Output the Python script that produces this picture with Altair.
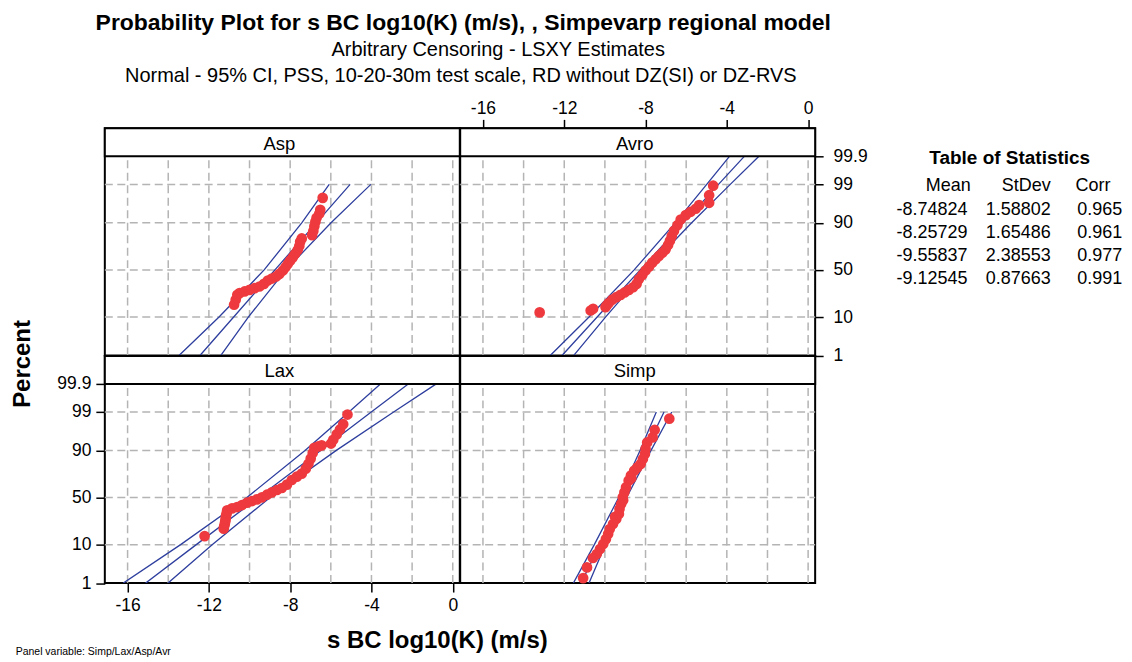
import altair as alt
import pandas as pd
from statistics import NormalDist

_nd = NormalDist()


def zscore(p):
    return _nd.inv_cdf(p / 100.0)


# ---------------- data ----------------
panel_names = ["Asp", "Avro", "Lax", "Simp"]
stat_mean = [-8.74824, -8.25729, -9.55837, -9.12545]
stat_stdev = [1.58802, 1.65486, 2.38553, 0.87663]
stat_corr = [0.965, 0.961, 0.977, 0.991]

x_ticks = [-16, -12, -8, -4, 0]
x_grid = [-16, -14, -12, -10, -8, -6, -4, -2, 0]
pct_ticks = [1, 10, 50, 90, 99, 99.9]
pct_tick_labels = ["1", "10", "50", "90", "99", "99.9"]
pct_grid = [10, 50, 90, 99]

# points (x value, percent)
asp_x = [-6.40, -6.52, -6.57, -6.70, -6.76, -6.81, -6.86, -6.92, -7.43, -7.51, -7.55,
         -7.63, -7.76, -7.87, -8.00, -8.12, -8.23, -8.36, -8.53, -8.69, -8.90, -9.10,
         -9.29, -9.51, -9.75, -10.00, -10.24, -10.49, -10.60, -10.68, -10.76]
asp_pct = [97.5, 94.9, 93.7, 92.2, 90.5, 88.3, 85.5, 82.8, 80.4, 77.8, 74.2,
           70.6, 66.7, 63.4, 60.0, 56.4, 52.9, 49.3, 45.7, 42.9, 40.7, 38.6,
           35.2, 32.6, 31.0, 29.4, 27.9, 26.4, 24.9, 20.8, 17.2]

avro_x = [-13.21, -10.70, -10.58, -9.97, -9.90, -9.81, -9.64, -9.43, -9.23, -9.03, -8.82,
          -8.61, -8.44, -8.33, -8.16, -8.00, -7.83, -7.67, -7.50, -7.34, -7.17, -7.01,
          -6.89, -6.80, -6.71, -6.60, -6.43, -6.27, -6.02, -5.78, -5.53, -5.36, -4.87,
          -4.87, -4.67]
avro_pct = [12.4, 13.5, 14.5, 15.6, 16.8, 18.4, 20.9, 23.0, 24.9, 27.0, 29.4,
            31.9, 35.2, 40.0, 44.6, 49.3, 53.6, 57.9, 61.4, 64.8, 68.0, 71.2,
            75.1, 78.6, 82.1, 85.6, 88.8, 91.5, 93.2, 94.3, 95.2, 96.1, 96.6,
            97.9, 98.9]

lax_x = [-12.21, -11.27, -11.25, -11.22, -11.20, -11.18, -11.17, -11.15, -11.12, -11.10,
         -10.86, -10.61, -10.37, -10.12, -9.88, -9.63, -9.39, -9.14, -8.90, -8.65, -8.41,
         -8.16, -7.92, -7.67, -7.43, -7.23, -7.10, -6.99, -6.89, -6.81, -6.61, -6.45,
         -5.99, -5.88, -5.71, -5.55, -5.39, -5.18]
lax_pct = [14.7, 19.8, 21.5, 23.3, 25.3, 27.3, 29.3, 31.4, 33.8, 36.3,
           38.4, 39.8, 41.9, 44.4, 46.2, 48.0, 50.2, 53.1, 55.6, 58.1, 60.2,
           63.7, 68.3, 71.5, 74.2, 78.4, 82.1, 85.5, 88.7, 91.2, 91.8, 92.2,
           92.9, 94.2, 95.7, 96.8, 97.7, 98.8]

simp_x = [-6.83, -7.55, -7.65, -7.92, -8.00, -8.03, -8.13, -8.24, -8.40, -8.56, -8.72,
          -8.70, -8.83, -8.96, -9.04, -9.12, -9.10, -9.20, -9.28, -9.31, -9.44, -9.50,
          -9.60, -9.76, -9.84, -9.95, -10.08, -10.24, -10.40, -10.59, -10.88, -11.07]
simp_pct = [98.4, 96.7, 94.9, 93.3, 90.7, 88.2, 85.3, 81.9, 79.4, 76.7, 72.4,
            70.0, 67.7, 60.9, 55.6, 50.2, 47.0, 43.0, 37.7, 32.7, 27.9, 30.0,
            23.5, 19.6, 16.0, 12.9, 10.3, 8.05, 6.2, 5.0, 2.87, 1.42]

# fitted line and 95% CI read at these percents
asp_line_pct = [1, 10, 50, 90, 99]
asp_lo = [-13.47, -11.50, -9.28, -7.43, -6.08]
asp_fit = [-12.44, -10.78, -8.75, -6.71, -5.05]
asp_hi = [-11.41, -10.06, -8.21, -5.99, -4.03]

avro_line_pct = [1, 10, 50, 90, 99, 99.9]
avro_lo = [-12.69, -10.78, -8.56, -6.54, -4.99, -3.87]
avro_fit = [-12.11, -10.38, -8.26, -6.14, -4.41, -3.14]
avro_hi = [-11.53, -9.97, -7.96, -5.73, -3.83, -2.42]

lax_line_pct = [1, 10, 50, 90, 99, 99.9]
lax_lo = [-16.21, -13.39, -10.13, -7.27, -5.11, -3.56]
lax_fit = [-15.11, -12.62, -9.56, -6.50, -4.01, -2.19]
lax_hi = [-14.01, -11.84, -8.99, -5.73, -2.91, -0.81]

simp_line_pct = [1, 10, 50, 90, 99]
simp_lo = [-11.55, -10.52, -9.32, -8.27, -7.47]
simp_fit = [-11.17, -10.25, -9.13, -8.00, -7.09]
simp_hi = [-10.78, -9.98, -8.93, -7.73, -6.71]

# ---------------- styling / layout ----------------
FONT = "Liberation Sans, Arial, Helvetica, sans-serif"
RED = "#ee3a3e"
BLUE = "#2e3f9e"
GRID = "#b4b4b4"

W, H, HDR = 355.6, 227.5, 28.0
X_DOM = [-17.12, 0.346]
Z_BOT = zscore(1)
Z_999 = zscore(99.9)
Z_TOP = Z_999 + HDR * (Z_999 - Z_BOT) / (H - HDR)

tick_z = [round(zscore(p), 6) for p in pct_ticks]
pct_expr = "".join(
    f"abs(datum.value - ({z})) < 0.001 ? '{lab}' : " for z, lab in zip(tick_z, pct_tick_labels)
) + "''"

axis_common = dict(title=None, domain=False, grid=False, ticks=True, tickWidth=1.5,
                   tickColor="black", labelFont=FONT, labelFontSize=17.5,
                   labelColor="black", labelFlush=False, labelOverlap=False, labelBound=False)

ax_top = alt.Axis(orient="top", values=x_ticks, tickSize=9, labelPadding=2,
                  labelExpr="'' + datum.value", **axis_common)
ax_bottom = alt.Axis(orient="bottom", values=x_ticks, tickSize=9, labelPadding=4,
                     labelExpr="'' + datum.value", **axis_common)
ax_left = alt.Axis(orient="left", values=tick_z, tickSize=9, labelPadding=5,
                   labelExpr=pct_expr, **axis_common)
ax_right = alt.Axis(orient="right", values=tick_z, tickSize=8, labelPadding=10,
                    labelExpr=pct_expr, **axis_common)

blank = pd.DataFrame({"a": [0]})


def make_panel(name, px, ppct, lpct, lo, fit, hi, x_axis, y_axis, extras=()):
    xs = alt.Scale(domain=X_DOM, nice=False, zero=False)
    ys = alt.Scale(domain=[Z_BOT, Z_TOP], nice=False, zero=False)

    def X(f):
        return alt.X(f, type="quantitative", scale=xs, axis=x_axis)

    def Y(f):
        return alt.Y(f, type="quantitative", scale=ys, axis=y_axis)

    vg = pd.DataFrame({"x": x_grid, "z1": [Z_BOT] * len(x_grid), "z2": [Z_999] * len(x_grid)})
    hg = pd.DataFrame({"z": [zscore(p) for p in pct_grid]})
    pts = pd.DataFrame({"x": px, "pct": ppct, "z": [zscore(p) for p in ppct]})
    rows = []
    for key, arr in (("lo", lo), ("fit", fit), ("hi", hi)):
        for p, v in zip(lpct, arr):
            rows.append({"line": key, "x": v, "pct": p, "z": zscore(p)})
    lines = pd.DataFrame(rows)

    layers = [
        alt.Chart(vg).mark_rule(color=GRID, strokeWidth=1.5, strokeDash=[8, 4.5]).encode(
            x=X("x"), y=Y("z1"), y2="z2"),
        alt.Chart(hg).mark_rule(color=GRID, strokeWidth=1.5, strokeDash=[8, 4.5]).encode(
            y=Y("z"), x=alt.value(0), x2=alt.value(W)),
        alt.Chart(lines).mark_line(color=BLUE, strokeWidth=1.3, clip=True).encode(
            x=X("x"), y=Y("z"), detail="line:N", order="z:Q"),
        alt.Chart(pts).mark_circle(color=RED, size=115, opacity=1).encode(
            x=X("x"), y=Y("z")),
        alt.Chart(blank).mark_rect(fill="white", stroke="black", strokeWidth=2).encode(
            x=alt.value(0), x2=alt.value(W), y=alt.value(0), y2=alt.value(HDR)),
        alt.Chart(blank).mark_text(font=FONT, fontSize=18.5, color="black",
                                   baseline="alphabetic").encode(
            x=alt.value(W / 2 - 3), y=alt.value(21.5), text=alt.value(name)),
    ]
    layers.extend(extras)
    return alt.layer(*layers).properties(width=W, height=H)


def txt(text, x, y, size, bold=False, align="center", angle=0, line_height=None):
    kw = dict(font=FONT, fontSize=size, color="black", align=align, baseline="alphabetic",
              fontWeight="bold" if bold else "normal")
    if angle:
        kw["angle"] = angle
    if line_height:
        kw["lineHeight"] = line_height
    return alt.Chart(blank).mark_text(**kw).encode(
        x=alt.value(x), y=alt.value(y), text=alt.value(text))


# texts relative to top-left panel (origin at page 102.9,125.7)
tl_extras = [
    alt.Chart(blank).mark_rule(color="white", strokeWidth=1).encode(
        x=alt.value(-94.9), x2=alt.value(-94.4), y=alt.value(-117.7), y2=alt.value(-117.7)),
    txt("Probability Plot for s BC log10(K) (m/s), , Simpevarp regional model",
        359.1, -99.0, 23, bold=True),
    txt("Arbitrary Censoring - LSXY Estimates", 394.1, -72.0, 20),
    txt("Normal - 95% CI,  PSS, 10-20-30m test scale, RD without DZ(SI) or DZ-RVS",
        356.6, -46.0, 20),
]

# table of statistics relative to top-right panel (origin at page 458.5,125.7)
lh = 23.33
tr_extras = [
    txt("Table of Statistics", 550.5, 35.3, 19, bold=True),
    txt("Mean", 511.5, 63.1, 18, align="right"),
    txt("StDev", 591.5, 63.1, 18, align="right"),
    txt("Corr", 616.5, 63.1, 18, align="left"),
    txt([f"{v:.5f}" for v in stat_mean], 508.2, 86.3, 18, align="right", line_height=lh),
    txt([f"{v:.5f}" for v in stat_stdev], 591.5, 86.3, 18, align="right", line_height=lh),
    txt([f"{v:.3f}" for v in stat_corr], 618.2, 86.3, 18, align="left", line_height=lh),
]

# axis titles etc. relative to bottom-left panel (origin at page 102.9,353.2)
bl_extras = [
    txt("Percent", -74.6, 8.0, 24, bold=True, angle=270),
    txt("s BC log10(K) (m/s)", 333.1, 293.0, 24, bold=True),
    txt("Panel variable: Simp/Lax/Asp/Avr", -89.3, 299.8, 10.5, align="left"),
]

tl = make_panel("Asp", asp_x, asp_pct, asp_line_pct, asp_lo, asp_fit, asp_hi,
                None, None, tl_extras)
tr = make_panel("Avro", avro_x, avro_pct, avro_line_pct, avro_lo, avro_fit, avro_hi,
                ax_top, ax_right, tr_extras)
bl = make_panel("Lax", lax_x, lax_pct, lax_line_pct, lax_lo, lax_fit, lax_hi,
                ax_bottom, ax_left, bl_extras)
br = make_panel("Simp", simp_x, simp_pct, simp_line_pct, simp_lo, simp_fit, simp_hi,
                None, None)

chart = alt.concat(tl, tr, bl, br, columns=2, spacing=0, bounds="flush").properties(
    padding=0, background="white"
).configure_view(stroke="black", strokeWidth=2)

chart.save("out.html", embed_options={"renderer": "svg", "actions": False})
